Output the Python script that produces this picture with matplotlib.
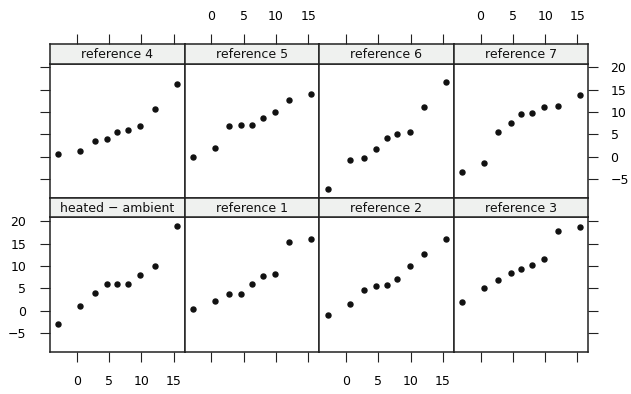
import matplotlib
matplotlib.use("Agg")
import matplotlib.pyplot as plt

plt.rcParams["font.family"] = "DejaVu Sans"
plt.rcParams["font.size"] = 9

# shared x positions (theoretical quantiles)
qx = [-2.85, 0.55, 2.75, 4.65, 6.3, 7.95, 9.85, 12.05, 15.45]

heated = [-3, 1, 4, 6, 6, 6, 8, 10, 19]
ref1 = [0.3, 2.1, 3.6, 3.8, 6.0, 7.7, 8.1, 15.4, 16.1]
ref2 = [-0.9, 1.4, 4.5, 5.6, 5.8, 7.0, 9.9, 12.6, 16.1]
ref3 = [1.9, 5.0, 6.8, 8.5, 9.4, 10.1, 11.5, 17.7, 18.8]
ref4 = [0.6, 1.3, 3.5, 4.0, 5.5, 6.0, 6.9, 10.7, 16.3]
ref5 = [-0.1, 1.9, 6.9, 7.1, 7.1, 8.7, 10.0, 12.7, 14.1]
ref6 = [-7.2, -0.7, -0.3, 1.7, 4.2, 5.1, 5.5, 11.1, 16.7]
ref7 = [-3.4, -1.4, 5.5, 7.6, 9.6, 9.8, 11.1, 11.4, 13.8]

# layout order: top row then bottom row
panels = [
    ("reference 4", ref4), ("reference 5", ref5), ("reference 6", ref6), ("reference 7", ref7),
    ("heated \u2212 ambient", heated), ("reference 1", ref1), ("reference 2", ref2), ("reference 3", ref3),
]

W, H = 631, 394
fig = plt.figure(figsize=(W / 100, H / 100), dpi=100)

left0, pw = 50, 134.6
strip_h, panel_h = 19.5, 134.35
top0 = 44
line_c = "#222222"
xt = [0, 5, 10, 15]
yt = [-5, 0, 5, 10, 15, 20]


def frac(x, y, w, h):
    return [x / W, 1 - (y + h) / H, w / W, h / H]


for i, (name, vals) in enumerate(panels):
    row, col = divmod(i, 4)
    x0 = left0 + col * pw
    sy = top0 + row * (strip_h + panel_h)
    py = sy + strip_h

    ax = fig.add_axes(frac(x0, py, pw, panel_h))
    ax.plot(qx, vals, "o", color="#111111", markersize=3.6)
    ax.set_xlim(-4.15, 16.7)
    ax.set_ylim(-9.2, 20.85)
    for s in ax.spines.values():
        s.set_color(line_c)
        s.set_linewidth(1.1)

    # y axis: left on col 0, right on col 3
    ax.set_yticks(yt)
    ax.tick_params(axis="y", direction="out", length=7, width=0.8, color=line_c,
                   left=(col == 0), right=(col == 3),
                   labelleft=(col == 0 and row == 1), labelright=(col == 3 and row == 0),
                   pad=10)
    if col == 3:
        for lab in ax.get_yticklabels():
            lab.set_horizontalalignment("left")
        ax.tick_params(axis="y", pad=9)

    # x axis: bottom only on bottom row
    ax.set_xticks(xt)
    ax.tick_params(axis="x", direction="out", length=7, width=0.8, color=line_c,
                   bottom=(row == 1), top=False,
                   labelbottom=(row == 1 and col % 2 == 0), labeltop=False, pad=10)

    # strip
    st = fig.add_axes(frac(x0, sy, pw, strip_h))
    st.set_facecolor("#eff1ef")
    st.set_xlim(-4.15, 16.7)
    st.set_ylim(0, 1)
    st.set_yticks([])
    for s in st.spines.values():
        s.set_color(line_c)
        s.set_linewidth(1.1)
    st.text(0.5, 0.47, name, transform=st.transAxes, ha="center", va="center",
            fontsize=9, color="#111111")
    st.set_xticks(xt)
    st.tick_params(axis="x", direction="out", length=7, width=0.8, color=line_c,
                   bottom=False, labelbottom=False,
                   top=(row == 0), labeltop=(row == 0 and col % 2 == 1), pad=8)

fig.savefig("out.png", dpi=100)
